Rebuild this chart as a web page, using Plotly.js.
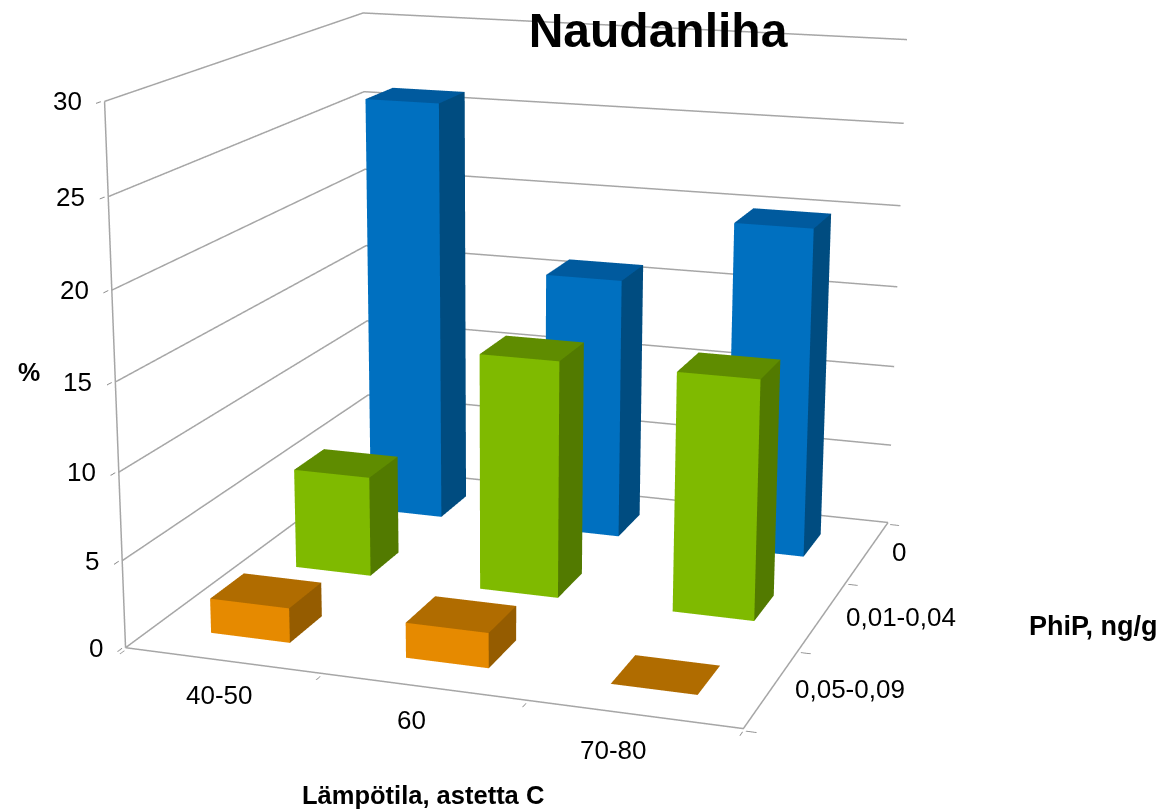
<!DOCTYPE html>
<html><head><meta charset="utf-8">
<script src="https://cdn.plot.ly/plotly-3.0.1.min.js"></script>
<style>html,body{margin:0;padding:0;width:1162px;height:812px;overflow:hidden;background:#fff}
#plot{position:absolute;left:-162px;top:-760px;width:1324px;height:2320px}</style>
</head><body><div id="plot"></div>
<script>
const temperatures = ['40-50','60','70-80'];
const phipLevels = ['0','0,01-0,04','0,05-0,09'];
const zTicks = [0,5,10,15,20,25,30];
const seriesPhip0 = [26,16,20];
const seriesPhip1 = [6,14,14];
const seriesPhip2 = [2,2,0];
const seriesValues = [seriesPhip0,seriesPhip1,seriesPhip2];
const frontColors = ['#0070C0','#7FBA00','#E68A00'];
const topColors = ['#005A9E','#5F8C00','#B06C00'];
const sideColors = ['#004C80','#527A00','#955C00'];

const W=1324,H=2320,L=-162,T=-760;
const px=x=>(x-L)/W, py=y=>1-(y-T)/H;
const halfX=0.205, halfY=0.19;
const lo=-0.5, hi=2.5, pad=0.012, lineColor='#a6a6a6';
const traces=[];
const edge=(x,y,z)=>traces.push({type:'scatter3d',mode:'lines',x,y,z,line:{color:lineColor,width:3},hoverinfo:'skip',showlegend:false});
zTicks.forEach(t=>edge([lo,lo,hi],[lo,hi,hi],[t,t,t]));
edge([lo,hi,hi],[lo,lo,hi],[0,0,0]);
edge([lo,lo],[lo,lo],[0,30]);
seriesValues.forEach((vals,s)=>{
  const depth=phipLevels.length-1-s;
  vals.forEach((v,c)=>{
    const x0=c-halfX,x1=c+halfX,y0=depth-halfY,y1=depth+halfY;
    const X=[x0,x1,x1,x0,x0,x1,x1,x0],Y=[y0,y0,y1,y1,y0,y0,y1,y1],Z=[0,0,0,0,v,v,v,v];
    const faces=[[0,1,5,frontColors[s]],[0,5,4,frontColors[s]],[1,2,6,sideColors[s]],[1,6,5,sideColors[s]],
                 [4,5,6,topColors[s]],[4,6,7,topColors[s]]];
    traces.push({type:'mesh3d',x:X,y:Y,z:Z,i:faces.map(f=>f[0]),j:faces.map(f=>f[1]),k:faces.map(f=>f[2]),
      facecolor:faces.map(f=>f[3]),flatshading:true,hoverinfo:'skip',showscale:false,
      lighting:{ambient:1,diffuse:0,specular:0,roughness:1,fresnel:0}});
  });
});
const tickFont={family:'Liberation Sans, Arial, sans-serif',size:26,color:'#000'};
const ann=[];
zTicks.forEach(t=>ann.push({x:lo,y:lo,z:t,text:String(t),showarrow:false,xanchor:'right',yanchor:'middle',xshift:-21,font:tickFont}));
const xShift=[[-3,35],[-11,33],[-20,36]];
temperatures.forEach((t,c)=>ann.push({x:c,y:lo,z:0,text:t,showarrow:false,xanchor:'center',yanchor:'middle',xshift:xShift[c][0],yshift:-xShift[c][1],font:tickFont}));
const yShift=[[31,-1],[78,-2],[78,-1]];
phipLevels.forEach((t,s)=>ann.push({x:hi,y:2-s,z:0,text:t,showarrow:false,xanchor:'center',yanchor:'middle',xshift:yShift[s][0],yshift:yShift[s][1],font:tickFont}));
const axisBase={showbackground:false,showspikes:false,zeroline:false,showticklabels:false,showline:false,ticks:'outside',ticklen:8,tickcolor:'#8c8c8c',tickwidth:2,title:{text:''},showgrid:false};
const bold=(s)=>({family:'Liberation Sans, Arial, sans-serif',size:s,color:'#000'});
const paperLabel=(text,x,y,s)=>({text:'<b>'+text+'</b>',x:px(x),y:py(y),xref:'paper',yref:'paper',xanchor:'center',yanchor:'middle',showarrow:false,font:bold(s)});
const layout={width:W,height:H,margin:{l:0,r:0,t:0,b:0,pad:0},paper_bgcolor:'#fff',showlegend:false,
 title:{text:'<b>Naudanliha</b>',font:bold(48),x:px(658),xref:'paper',xanchor:'center',y:py(30),yref:'paper',yanchor:'middle'},
 annotations:[paperLabel('%',29,372,25),paperLabel('PhiP, ng/g',1093,626,27),paperLabel('Lämpötila, astetta C',423,795,25.5)],
 scene:{domain:{x:[0,1],y:[0,1]},aspectmode:'manual',aspectratio:{x:0.976,y:0.997,z:0.845},dragmode:false,
  camera:{projection:{type:'perspective'},up:{x:0,y:0,z:1},center:{x:-0.0379,y:-0.0462,z:-0.1046},eye:{x:1.383,y:-4.080,z:1.093}},
  xaxis:Object.assign({},axisBase,{range:[lo-pad,hi+pad],tickvals:[lo,0.5,1.5,hi]}),
  yaxis:Object.assign({},axisBase,{range:[lo-pad,hi+pad],tickvals:[lo,0.5,1.5,hi]}),
  zaxis:Object.assign({},axisBase,{range:[-0.12,30.12],tickvals:zTicks}),
  annotations:ann}};
Plotly.newPlot('plot',traces,layout,{displayModeBar:false,scrollZoom:false,doubleClick:false});
</script></body></html>
